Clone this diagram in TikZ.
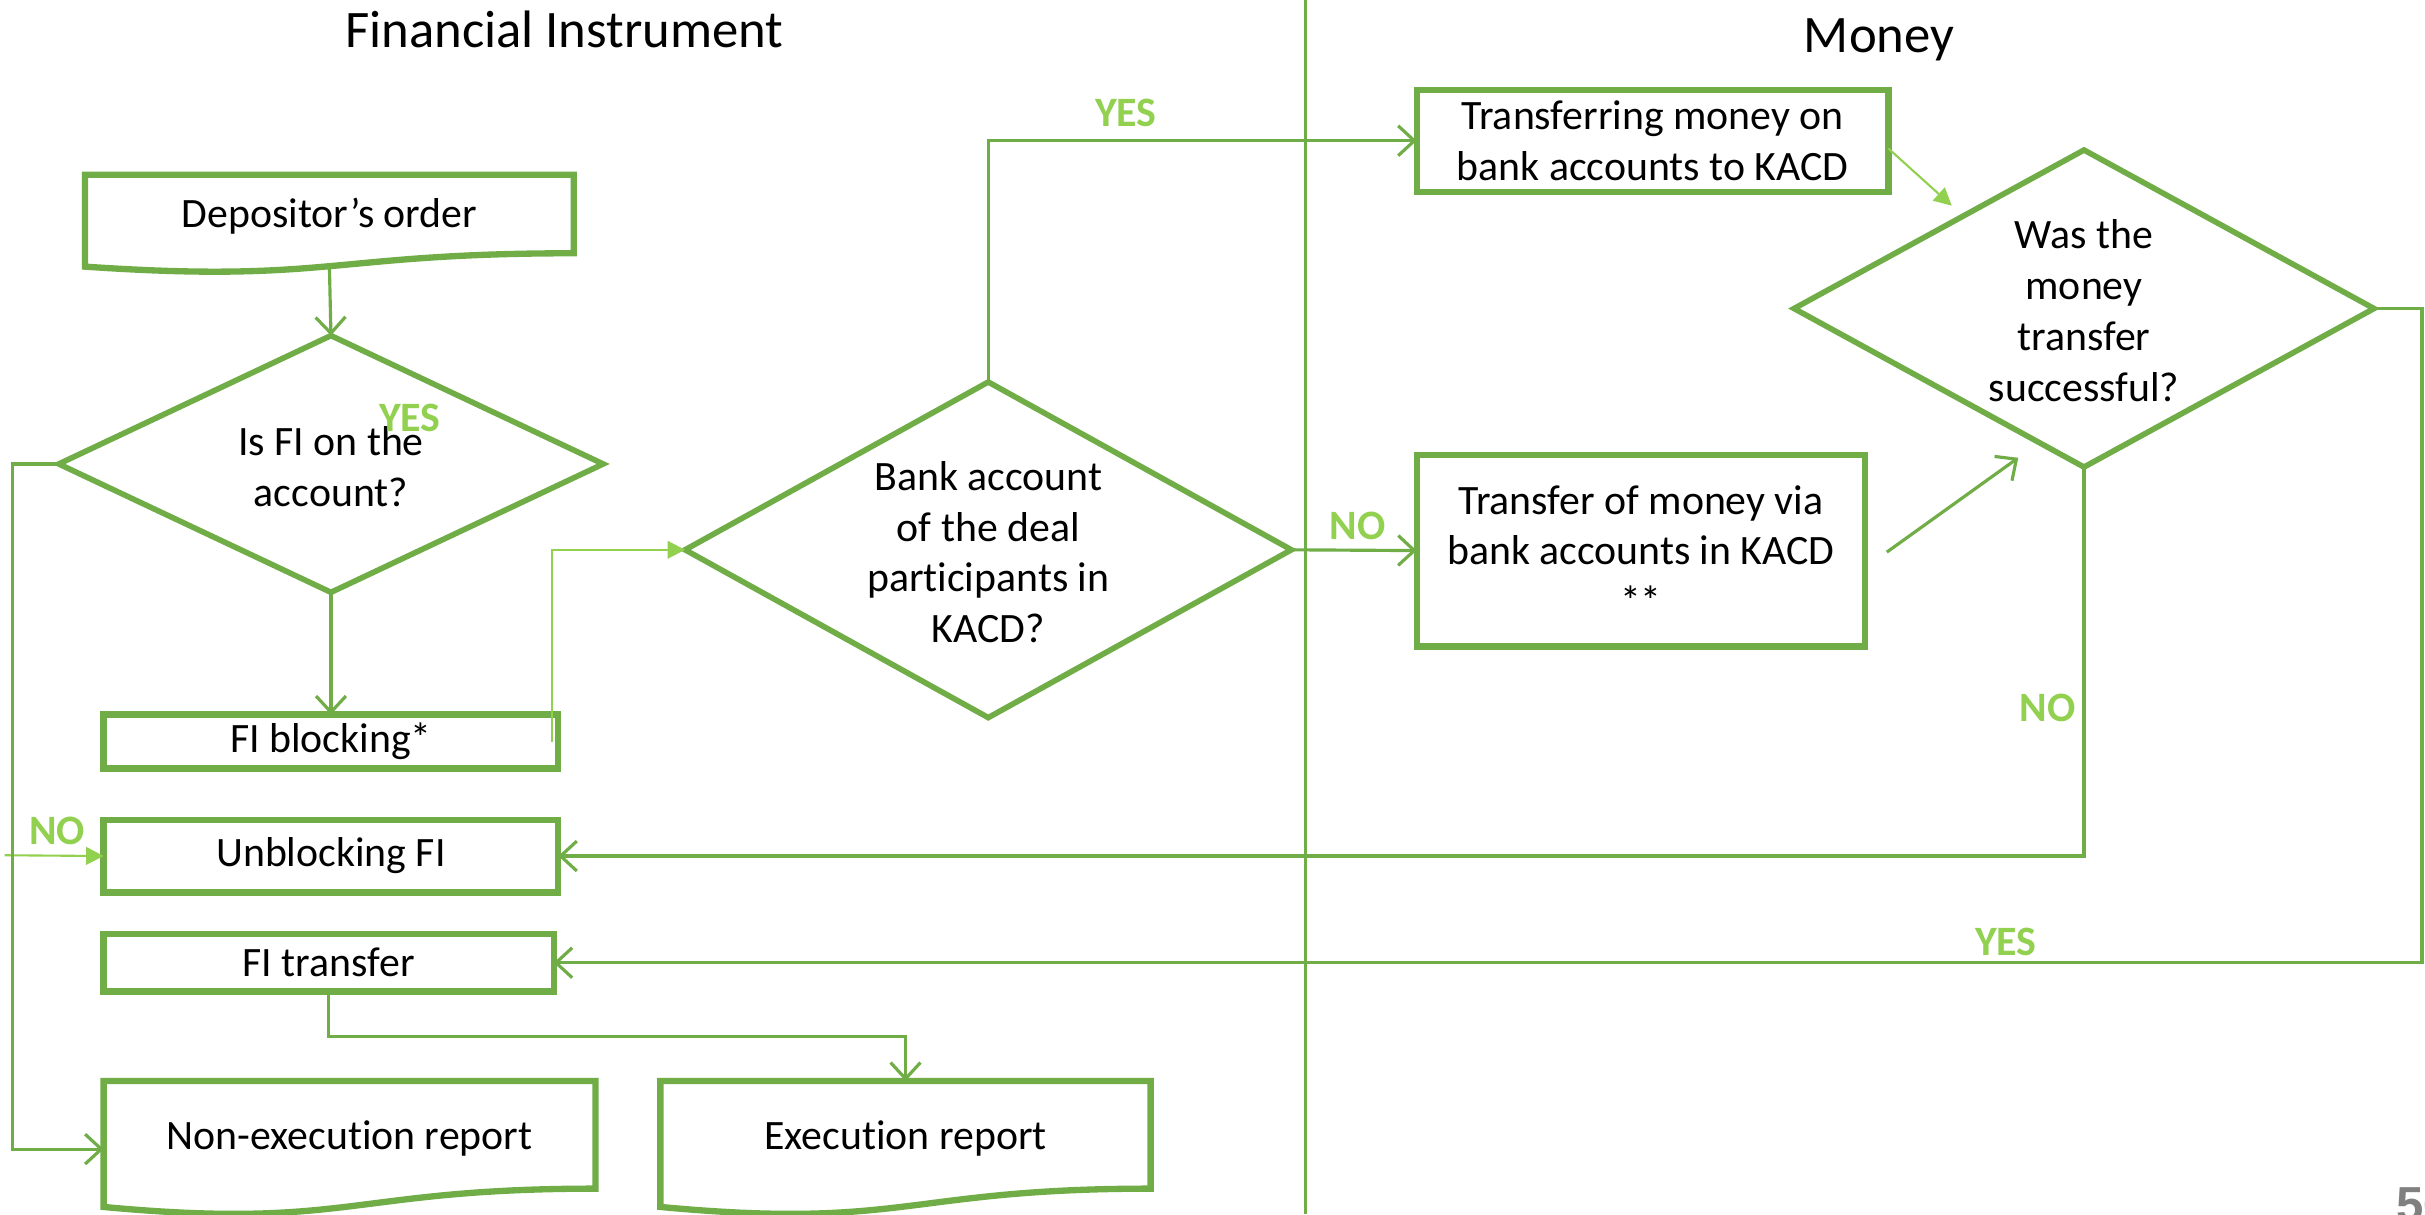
\documentclass[tikz,border=0pt]{standalone}
\usepackage{fontspec}
\setmainfont[Ligatures=NoCommon]{Carlito}
\newfontfamily\pagenumfont{Liberation Sans}
\usetikzlibrary{shapes.geometric,arrows.meta,calc}
\definecolor{flowgreen}{HTML}{70AD47}
\definecolor{taggreen}{HTML}{92D050}
\definecolor{pagegray}{HTML}{808080}
\newdimen\spx \spx=0.015466cm
\begin{document}
\begin{tikzpicture}[x=0.015466cm,y=-0.015466cm,
  bodyfont/.style={font=\fontsize{11.9}{14.5}\selectfont},
  txt/.style={bodyfont, align=center, inner sep=0pt},
  box/.style={draw=flowgreen, fill=white, line width=1.8pt, rectangle, inner sep=0pt,
    outer sep=0pt, bodyfont, align=center},
  docnode/.style={rectangle, inner sep=0pt, outer sep=0pt, bodyfont, align=center},
  docline/.style={draw=flowgreen, line width=1.8pt, line join=miter},
  diam/.style={draw=flowgreen, line width=1.6pt, diamond, inner sep=0pt, outer sep=0pt},
  conn/.style={draw=flowgreen, line width=0.9pt,
    -{Straight Barb[length=4.6pt,width=8.5pt,line width=0.9pt]}},
  thinconn/.style={draw=taggreen, line width=0.6pt, -{Triangle[length=5pt,width=5pt]}},
  lab/.style={text=taggreen, font=\bfseries\fontsize{11.9}{14}\selectfont, inner sep=0pt},
  title/.style={font=\fontsize{15}{18}\selectfont, inner sep=0pt, anchor=base},
  divider/.style={draw=flowgreen, line width=0.9pt}]

\useasboundingbox[fill=white] (0,0) rectangle (1568,785);

% column headings and the dividing line
\node[title] (tfi) at (365,31) {Financial Instrument};
\node[title] (tmo) at (1215,34) {Money};
\draw[divider] (844,0) -- (844,785);

% document-shaped nodes (text sits in the upper part)
\node[docnode, minimum width=316\spx, minimum height=54\spx] (dep) at (213,140) {Depositor’s order};
\node[docnode, minimum width=318\spx, minimum height=74\spx] (ne) at (226,736) {Non-execution report};
\node[docnode, minimum width=317\spx, minimum height=74\spx] (ex) at (585.5,736) {Execution report};
\foreach \n in {dep,ne,ex}{
  \draw[docline] (\n.north west) -- (\n.north east)
    -- ($(\n.north east)!0.94!(\n.south east)$)
    .. controls ($(\n.north)!0.94!(\n.south)$) and ($(\n.north)!1.30!(\n.south)$)
    .. ($(\n.north west)!1.10!(\n.south west)$) -- cycle;
}

% decisions
\node[diam, minimum width=352\spx, minimum height=166\spx] (d1) at (214,300) {};
\node[txt] (d1t) at (214,302) {Is FI on the\\account?};
\node[diam, minimum width=392\spx, minimum height=217\spx] (d2) at (639,355.5) {};
\node[txt] (d2t) at (639,357) {Bank account\\of the deal\\participants in\\KACD?};
\node[diam, minimum width=375\spx, minimum height=205\spx] (d3) at (1347.5,199.5) {};
\node[txt] (d3t) at (1347.5,201) {Was the\\money\\transfer\\successful?};

% process boxes
\node[box, minimum width=294\spx, minimum height=35\spx] (fib) at (214,479.5) {FI blocking*};
\node[box, minimum width=294\spx, minimum height=47\spx] (ub) at (214,553.5) {Unblocking FI};
\node[box, minimum width=291\spx, minimum height=37\spx] (ft) at (212.5,622.5) {FI transfer};
\node[box, minimum width=305\spx, minimum height=66\spx] (tr) at (1068.5,91) {Transferring money on\\bank accounts to KACD};
\node[box, minimum width=290\spx, minimum height=124\spx] (tm) at (1061,356) {Transfer of money via\\bank accounts in KACD\\**};

% free ends of connectors
\coordinate (d3in) at (1262,133);
\coordinate (tmout) at (1220,357);
\coordinate (d3in2) at (1305,296);
\coordinate (noin) at (3,553);

% connectors
\draw[conn] ($(dep.north)!1.10!(dep.south)$) -- (d1.north);
\draw[conn] (d1.south) -- (fib.north);
\draw[thinconn] ($(fib.east)+(-4,0.5)$) |- (d2.west);
\draw[conn] (d2.north) |- (tr.west);
\draw[conn] (d2.east) -- (tm.west);
\draw[thinconn] ($(tr.east)+(0,5)$) -- (d3in);
\draw[conn] (tmout) -- (d3in2);
\draw[conn] (d3.east) -- ++(31,0) |- (ft.east);
\draw[conn] (d3.south) |- (ub.east);
\draw[thinconn] (noin) -- (ub.west);
\draw[conn] (d1.west) -- ++(-30,0) |- ($(ne.west)+(0,7)$);
\draw[conn] (ft.south) -- ++(0,29) -| (ex.north);

% branch labels
\node[lab] (y1) at (265,270) {YES};
\node[lab] (y2) at (728,73) {YES};
\node[lab] (n2) at (878,340) {NO};
\node[lab] (n3) at (1324,458) {NO};
\node[lab] (y3) at (1297,609) {YES};
\node[lab] (n1) at (37,537) {NO};

% slide number
\node[anchor=north west, inner sep=0pt, text=pagegray,
  font=\pagenumfont\bfseries\fontsize{14}{14}\selectfont] (pg) at (1549,767) {56};
\end{tikzpicture}
\end{document}
